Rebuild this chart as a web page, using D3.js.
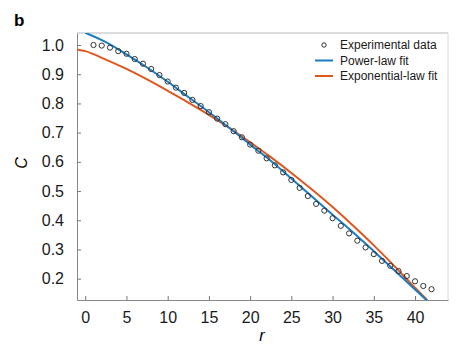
<!DOCTYPE html>
<html>
<head>
<meta charset="utf-8">
<script src="https://d3js.org/d3.v7.min.js"></script>
<style>
  body { margin: 0; background: #fff; }
  svg { display: block; font-family: "Liberation Sans", Arial, sans-serif; }
</style>
</head>
<body>
<div id="chart"></div>
<script>

// experimental points, r = 1..42
var expR = d3.range(1, 43);
var expC = [1.000, 0.998, 0.991, 0.979, 0.970, 0.952, 0.936, 0.918, 0.897, 0.875,
            0.854, 0.836, 0.812, 0.791, 0.770, 0.748, 0.729, 0.705, 0.684, 0.659,
            0.638, 0.612, 0.588, 0.564, 0.538, 0.511, 0.483, 0.456, 0.433, 0.407,
            0.381, 0.355, 0.330, 0.307, 0.284, 0.261, 0.244, 0.226, 0.209, 0.191,
            0.175, 0.164];

// fitted curves
var powR = [0, 2.5, 5, 7.5, 10, 12.5, 15, 17.5, 20, 22.5, 25, 27.5, 30, 32.5, 35, 37.5, 40, 41.5];
var powC = [1.042, 1.010, 0.968, 0.923, 0.874, 0.822, 0.770, 0.716, 0.659, 0.604,
            0.543, 0.481, 0.419, 0.358, 0.294, 0.229, 0.163, 0.124];

var expoR = [-1, 0, 2.5, 5, 7.5, 10, 12.5, 15, 17.5, 20, 22.5, 25, 27.5, 30, 32.5, 35, 37.5, 40, 41.5];
var expoC = [0.985, 0.979, 0.950, 0.918, 0.882, 0.843, 0.803, 0.761, 0.716, 0.667,
             0.616, 0.562, 0.505, 0.445, 0.381, 0.314, 0.243, 0.169, 0.126];

var xTicks = [0, 5, 10, 15, 20, 25, 30, 35, 40];
var yTicks = [0.2, 0.3, 0.4, 0.5, 0.6, 0.7, 0.8, 0.9, 1.0];
var legendLabels = ["Experimental data", "Power-law fit", "Exponential-law fit"];

var blue = "#1a7cc1";
var orange = "#e0561f";

var width = 469, height = 353;
var plotLeft = 77, plotRight = 448, plotTop = 33, plotBottom = 300;

var svg = d3.select("#chart")
    .append("svg")
    .attr("width", width)
    .attr("height", height);

var x = d3.scaleLinear().domain([-1, 44]).range([plotLeft, plotRight]);
var y = d3.scaleLinear().domain([0.127, 1.0411]).range([plotBottom, plotTop]);

// frame
svg.append("line").attr("x1", plotLeft).attr("x2", plotRight).attr("y1", plotTop).attr("y2", plotTop)
    .attr("stroke", "#b8b8b8").attr("stroke-width", 1);
svg.append("line").attr("x1", plotRight).attr("x2", plotRight).attr("y1", plotTop).attr("y2", plotBottom)
    .attr("stroke", "#d8d8d8").attr("stroke-width", 1);

var xAxis = svg.append("g")
    .attr("transform", "translate(0," + plotBottom + ")")
    .call(d3.axisBottom(x).tickValues(xTicks).tickSizeInner(-4).tickSizeOuter(0).tickPadding(12));
var yAxis = svg.append("g")
    .attr("transform", "translate(" + plotLeft + ",0)")
    .call(d3.axisLeft(y).tickValues(yTicks).tickFormat(d3.format(".1f")).tickSizeInner(-4).tickSizeOuter(0).tickPadding(13));

[xAxis, yAxis].forEach(function(a) {
    a.select(".domain").attr("stroke", "#888");
    a.selectAll(".tick line").attr("stroke", "#777");
    a.selectAll(".tick text").attr("fill", "#1a1a1a").style("font-size", "16px")
        .style("font-family", "'Liberation Sans', Arial, sans-serif");
});

svg.append("clipPath").attr("id", "plotclip")
    .append("rect").attr("x", plotLeft).attr("y", plotTop)
    .attr("width", plotRight - plotLeft).attr("height", plotBottom - plotTop);

var line = d3.line().curve(d3.curveMonotoneX);

svg.append("path")
    .attr("clip-path", "url(#plotclip)")
    .attr("d", line(expoR.map(function(r, i) { return [x(r), y(expoC[i])]; })))
    .attr("fill", "none").attr("stroke", orange).attr("stroke-width", 2);

svg.append("path")
    .attr("clip-path", "url(#plotclip)")
    .attr("d", line(powR.map(function(r, i) { return [x(r), y(powC[i])]; })))
    .attr("fill", "none").attr("stroke", blue).attr("stroke-width", 2);

svg.selectAll("circle.pt")
    .data(expR)
    .enter()
    .append("circle")
        .attr("class", "pt")
        .attr("cx", function(d) { return x(d); })
        .attr("cy", function(d, i) { return y(expC[i]); })
        .attr("r", 2.6)
        .attr("fill", "none")
        .attr("stroke", "#333")
        .attr("stroke-width", 1);

// legend
var lg = svg.append("g").attr("transform", "translate(315,45)");
lg.append("circle").attr("cx", 9).attr("cy", 0).attr("r", 2.2)
    .attr("fill", "none").attr("stroke", "#333").attr("stroke-width", 1);
lg.append("line").attr("x1", 0).attr("x2", 18).attr("y1", 15.5).attr("y2", 15.5)
    .attr("stroke", blue).attr("stroke-width", 2);
lg.append("line").attr("x1", 0).attr("x2", 18).attr("y1", 31).attr("y2", 31)
    .attr("stroke", orange).attr("stroke-width", 2);
lg.selectAll("text")
    .data(legendLabels)
    .enter()
    .append("text")
        .attr("x", 25)
        .attr("y", function(d, i) { return i * 15.5; })
        .attr("dy", "0.35em")
        .style("font-size", "12px")
        .attr("fill", "#1a1a1a")
        .text(function(d) { return d; });

// axis titles
svg.append("text")
    .attr("x", 262).attr("y", 341)
    .attr("text-anchor", "middle")
    .style("font-size", "16px").style("font-style", "italic")
    .text("r");

svg.append("text")
    .attr("transform", "translate(27,163) rotate(-90)")
    .attr("text-anchor", "middle")
    .style("font-size", "16px").style("font-style", "italic")
    .text("C");

svg.append("text")
    .attr("x", 14).attr("y", 26)
    .style("font-size", "17px").style("font-weight", "bold")
    .style("font-family", "'Liberation Sans', Arial, sans-serif")
    .text("b");

</script>
</body>
</html>
